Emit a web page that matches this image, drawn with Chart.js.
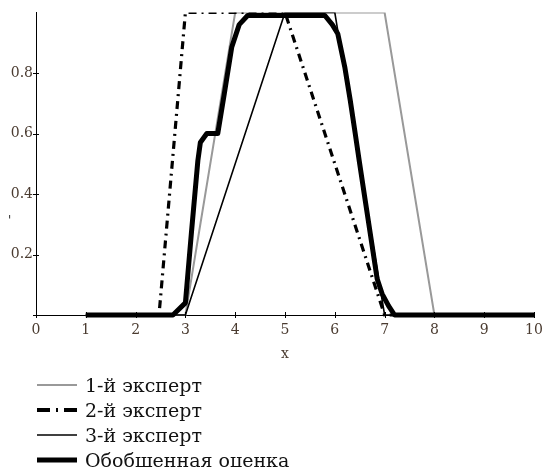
<!DOCTYPE html>
<html>
<head>
<meta charset="utf-8">
<script src="https://cdn.jsdelivr.net/npm/chart.js@4"></script>
<style>
html,body{margin:0;padding:0;background:#fff;}
#wrap{position:relative;width:550px;height:467px;overflow:hidden;background:#fff;}
#c{position:absolute;left:0;top:0;}
#legend{position:absolute;left:37px;top:372px;font-family:"DejaVu Serif",serif;font-size:19px;color:#111;}
.item{height:25px;display:flex;align-items:center;white-space:nowrap;}
.item svg{margin-right:8px;flex:none;}
#ymark{position:absolute;left:8px;top:215px;font-family:"DejaVu Serif",serif;font-size:12px;line-height:12px;color:#222;}
</style>
</head>
<body>
<div id="wrap">
  <canvas id="c" width="550" height="467"></canvas>
  <div id="ymark">'</div>
  <div id="legend"></div>
</div>
<script>
// ---- data ----
const xTicks = [0,1,2,3,4,5,6,7,8,9,10];
const yTicks = [0.2,0.4,0.6,0.8];
const seriesNames = ['1-й эксперт','2-й эксперт','3-й эксперт','Обобщенная оценка'];
const xTitle = 'x';

const exp1X = [1, 3, 4, 7, 8, 10];
const exp1Y = [0, 0, 1, 1, 0, 0];

const exp2X = [1, 2.47, 3, 5, 7, 10];
const exp2Y = [0, 0, 1, 1, 0, 0];

const exp3X = [1, 3, 5, 6, 7, 10];
const exp3Y = [0, 0, 1, 1, 0, 0];

const genX = [1, 2.75, 3.0, 3.12, 3.25, 3.3, 3.43, 3.65, 3.78, 3.93, 4.08, 4.25, 5.8, 5.95, 6.06, 6.2, 6.31, 6.41, 6.49, 6.61, 6.73, 6.85, 6.95, 7.08, 7.2, 10];
const genY = [0, 0, 0.04, 0.27, 0.51, 0.57, 0.6, 0.6, 0.73, 0.885, 0.96, 0.99, 0.99, 0.96, 0.93, 0.82, 0.71, 0.6, 0.51, 0.38, 0.25, 0.12, 0.07, 0.03, 0, 0];

function pts(xs, ys){ return xs.map((x,i)=>({x:x, y:ys[i]})); }

const styles = [
  {color:'#999999', width:2,   dash:[]},
  {color:'#000000', width:3.2, dash:[8,5,2,5]},
  {color:'#000000', width:1.6, dash:[]},
  {color:'#000000', width:5,   dash:[]}
];
const legendDash = [null, '13 6 2 6', null, null];

const tickFont = {family:'"DejaVu Serif", serif', size:14};
const tickColor = '#4a3b30';

const crossTicks = {
  id:'crossTicks',
  afterDatasetsDraw(chart){
    const ctx = chart.ctx, xs = chart.scales.x, ys = chart.scales.y, a = chart.chartArea;
    ctx.save();
    ctx.strokeStyle = '#000'; ctx.lineWidth = 1;
    ctx.beginPath();
    ctx.moveTo(a.left + 0.5, a.bottom); ctx.lineTo(a.left + 0.5, a.bottom + 3);
    ctx.moveTo(a.left - 3, a.bottom + 0.5); ctx.lineTo(a.left, a.bottom + 0.5);
    xTicks.forEach(v=>{
      const px = Math.round(xs.getPixelForValue(v)) + 0.5;
      ctx.moveTo(px, a.bottom - 3); ctx.lineTo(px, a.bottom + 3);
    });
    yTicks.forEach(v=>{
      const py = Math.round(ys.getPixelForValue(v)) + 0.5;
      ctx.moveTo(a.left - 3, py); ctx.lineTo(a.left + 3, py);
    });
    ctx.stroke();
    ctx.restore();
  }
};

const datasets = [[exp1X,exp1Y],[exp2X,exp2Y],[exp3X,exp3Y],[genX,genY]].map((s,i)=>({
  label: seriesNames[i],
  data: pts(s[0], s[1]),
  borderColor: styles[i].color,
  borderWidth: styles[i].width,
  borderDash: styles[i].dash,
  borderCapStyle: 'butt',
  borderJoinStyle: i===3 ? 'round' : 'miter',
  pointRadius: 0,
  tension: 0,
  fill: false,
  order: 3 - i,
  clip: {left: 6, right: 6, top: 0, bottom: 6}
}));

new Chart(document.getElementById('c'), {
  type: 'line',
  data: { datasets: datasets },
  options: {
    responsive: false,
    animation: false,
    devicePixelRatio: 1,
    layout: { padding: {left:0, right:16, top:12.5, bottom:102} },
    plugins: { legend:{display:false}, tooltip:{enabled:false} },
    scales: {
      x: {
        type: 'linear', min: 0, max: 10,
        afterBuildTicks: s => { s.ticks = xTicks.map(v=>({value:v})); },
        afterFit: s => { s.height = 50; },
        grid: { display:true, drawOnChartArea:false, drawTicks:false },
        border: { display:true, color:'#000', width:1 },
        ticks: { font: tickFont, color: tickColor, padding: 7, maxRotation:0, autoSkip:false },
        title: { display:true, text: xTitle, font:{family:'"DejaVu Serif", serif', size:14}, color: tickColor, padding:{top:0,bottom:2} }
      },
      y: {
        type: 'linear', min: 0, max: 1,
        afterBuildTicks: s => { s.ticks = yTicks.map(v=>({value:v})); },
        afterFit: s => { s.width = 36; },
        grid: { display:true, drawOnChartArea:false, drawTicks:false },
        border: { display:true, color:'#000', width:1 },
        ticks: { font: tickFont, color: tickColor, padding: 3, callback: v => String(v) }
      }
    }
  },
  plugins: [crossTicks]
});

// ---- legend (HTML, built from the series names and styles) ----
const lg = document.getElementById('legend');
seriesNames.forEach((name,i)=>{
  const row = document.createElement('div');
  row.className = 'item';
  const st = styles[i];
  const dash = legendDash[i] ? ` stroke-dasharray="${legendDash[i]}"` : '';
  row.innerHTML = `<svg width="40" height="10"><line x1="0" y1="5" x2="40" y2="5" stroke="${st.color}" stroke-width="${i===1?4:st.width}"${dash}/></svg><span>${name}</span>`;
  lg.appendChild(row);
});
</script>
</body>
</html>
